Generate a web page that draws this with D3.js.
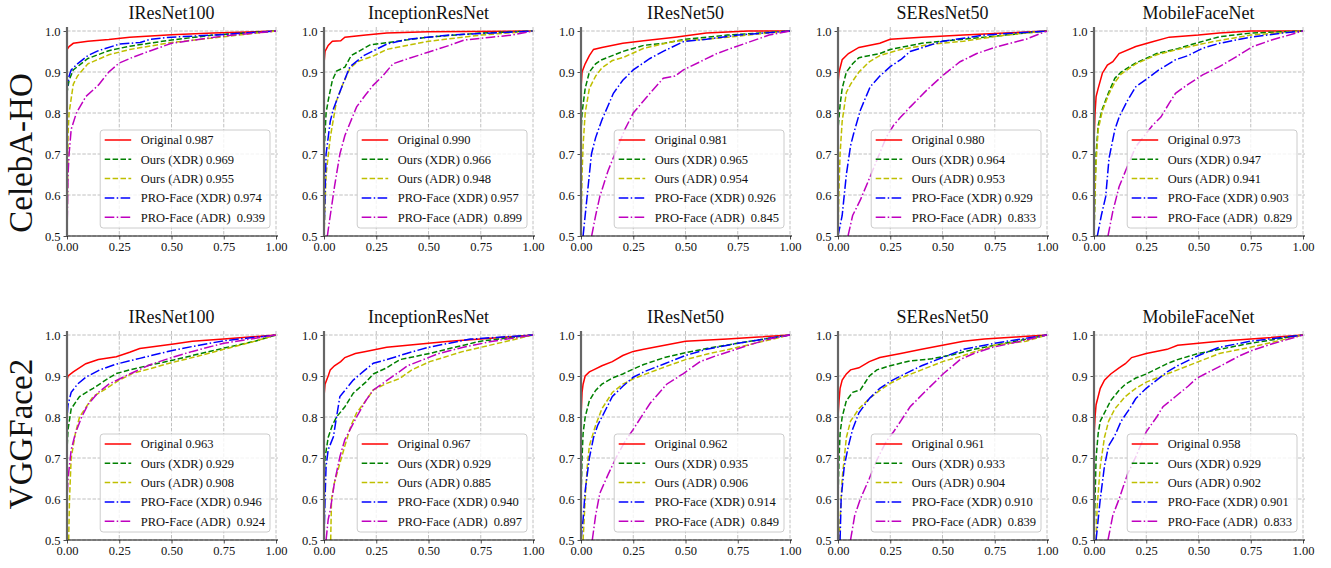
<!DOCTYPE html>
<html>
<head>
<meta charset="UTF-8">
<title>ROC curves</title>
<script src="https://cdnjs.cloudflare.com/ajax/libs/d3/7.8.5/d3.min.js"></script>
<style>
  body { margin: 0; background: #fff; }
  svg text { font-family: "Liberation Serif", "Times New Roman", serif; fill: #111; }
</style>
</head>
<body>
<svg id="chart" width="1331" height="568"></svg>
<script>
// ---- data ----
var datasets = ["CelebA-HO", "VGGFace2"];
var models = ["IResNet100", "InceptionResNet", "IResNet50", "SEResNet50", "MobileFaceNet"];
var methods = ["Original", "Ours (XDR)", "Ours (ADR)", "PRO-Face (XDR)", "PRO-Face (ADR) "];
var xTicks = [0, 0.25, 0.5, 0.75, 1];
var yTicks = [0.5, 0.6, 0.7, 0.8, 0.9, 1.0];

var celebaAuc = [
  [0.987, 0.969, 0.955, 0.974, 0.939],
  [0.990, 0.966, 0.948, 0.957, 0.899],
  [0.981, 0.965, 0.954, 0.926, 0.845],
  [0.980, 0.964, 0.953, 0.929, 0.833],
  [0.973, 0.947, 0.941, 0.903, 0.829]
];
var vggAuc = [
  [0.963, 0.929, 0.908, 0.946, 0.924],
  [0.967, 0.929, 0.885, 0.940, 0.897],
  [0.962, 0.935, 0.906, 0.914, 0.849],
  [0.961, 0.933, 0.904, 0.910, 0.839],
  [0.958, 0.929, 0.902, 0.901, 0.833]
];

// each panel: [Original, Ours XDR, Ours ADR, PRO-Face XDR, PRO-Face ADR], points are [fpr, tpr]
var celebaIResNet100 = [
  [[0,0.5],[0,0.955],[0.01,0.962],[0.03,0.97],[0.1,0.975],[0.2,0.979],[0.3,0.985],[0.5,0.991],[0.7,0.995],[1,1]],
  [[0,0.5],[0,0.85],[0.01,0.88],[0.03,0.905],[0.1,0.933],[0.2,0.952],[0.3,0.963],[0.5,0.978],[0.7,0.99],[1,1]],
  [[0,0.5],[0.005,0.75],[0.01,0.8],[0.03,0.87],[0.05,0.89],[0.1,0.92],[0.2,0.942],[0.3,0.955],[0.5,0.972],[0.75,0.986],[1,1]],
  [[0,0.5],[0,0.86],[0.01,0.89],[0.02,0.905],[0.05,0.92],[0.1,0.94],[0.15,0.952],[0.25,0.968],[0.35,0.972],[0.4,0.98],[0.5,0.985],[0.7,0.99],[1,1]],
  [[0,0.5],[0.005,0.65],[0.01,0.7],[0.02,0.76],[0.045,0.8],[0.09,0.84],[0.15,0.868],[0.2,0.9],[0.25,0.922],[0.32,0.937],[0.4,0.952],[0.5,0.97],[0.75,0.988],[1,1]]
];
var celebaInception = [
  [[0,0.5],[0,0.92],[0.005,0.95],[0.02,0.965],[0.04,0.975],[0.08,0.976],[0.1,0.985],[0.2,0.99],[0.3,0.995],[0.5,0.998],[1,1]],
  [[0,0.5],[0,0.7],[0.01,0.8],[0.02,0.83],[0.04,0.88],[0.06,0.902],[0.1,0.912],[0.13,0.94],[0.22,0.966],[0.35,0.975],[0.5,0.985],[0.75,0.995],[1,1]],
  [[0,0.5],[0.01,0.65],[0.03,0.74],[0.06,0.83],[0.09,0.87],[0.124,0.909],[0.16,0.925],[0.24,0.94],[0.3,0.955],[0.5,0.975],[0.75,0.99],[1,1]],
  [[0,0.5],[0.005,0.6],[0.01,0.7],[0.03,0.78],[0.045,0.81],[0.09,0.87],[0.124,0.913],[0.19,0.94],[0.3,0.968],[0.4,0.98],[0.6,0.99],[1,1]],
  [[0.016,0.5],[0.03,0.55],[0.05,0.62],[0.076,0.7],[0.1,0.745],[0.156,0.815],[0.2,0.845],[0.236,0.868],[0.28,0.89],[0.33,0.92],[0.4,0.932],[0.49,0.947],[0.6,0.965],[0.67,0.978],[0.8,0.985],[0.9,0.99],[1,1]]
];
var celebaIResNet50 = [
  [[0,0.5],[0,0.86],[0.005,0.9],[0.02,0.92],[0.04,0.94],[0.06,0.955],[0.1,0.96],[0.2,0.97],[0.3,0.976],[0.45,0.985],[0.6,0.995],[0.8,1],[1,1]],
  [[0,0.5],[0,0.75],[0.005,0.8],[0.02,0.86],[0.04,0.9],[0.07,0.92],[0.1,0.93],[0.2,0.95],[0.3,0.965],[0.4,0.97],[0.5,0.98],[0.7,0.99],[1,1]],
  [[0,0.5],[0.005,0.65],[0.01,0.72],[0.02,0.8],[0.04,0.86],[0.07,0.89],[0.1,0.91],[0.15,0.928],[0.2,0.935],[0.3,0.958],[0.45,0.975],[0.6,0.98],[0.8,0.99],[1,1]],
  [[0.01,0.5],[0.03,0.6],[0.05,0.7],[0.07,0.74],[0.1,0.783],[0.155,0.848],[0.2,0.88],[0.25,0.905],[0.33,0.933],[0.4,0.952],[0.49,0.974],[0.6,0.98],[0.75,0.99],[1,1]],
  [[0.051,0.5],[0.07,0.55],[0.09,0.596],[0.13,0.66],[0.17,0.71],[0.21,0.76],[0.25,0.8],[0.33,0.848],[0.394,0.885],[0.45,0.89],[0.49,0.905],[0.57,0.925],[0.65,0.945],[0.72,0.958],[0.81,0.974],[0.9,0.99],[1,1]]
];
var celebaSEResNet50 = [
  [[0,0.5],[0,0.87],[0.005,0.9],[0.02,0.93],[0.05,0.945],[0.1,0.96],[0.2,0.97],[0.25,0.98],[0.4,0.985],[0.6,0.99],[0.8,0.995],[1,1]],
  [[0,0.5],[0,0.76],[0.01,0.82],[0.02,0.86],[0.04,0.9],[0.07,0.92],[0.1,0.935],[0.2,0.945],[0.25,0.955],[0.4,0.97],[0.6,0.98],[0.8,0.99],[1,1]],
  [[0,0.5],[0.005,0.62],[0.01,0.7],[0.02,0.78],[0.04,0.85],[0.06,0.87],[0.1,0.9],[0.15,0.925],[0.2,0.94],[0.3,0.955],[0.45,0.968],[0.6,0.975],[0.8,0.99],[1,1]],
  [[0,0.5],[0.02,0.55],[0.04,0.65],[0.06,0.72],[0.075,0.75],[0.107,0.807],[0.154,0.864],[0.2,0.89],[0.25,0.913],[0.3,0.93],[0.345,0.95],[0.5,0.975],[0.7,0.99],[0.85,0.995],[1,1]],
  [[0.048,0.5],[0.07,0.55],[0.107,0.588],[0.15,0.64],[0.186,0.685],[0.23,0.74],[0.266,0.77],[0.3,0.79],[0.346,0.815],[0.425,0.856],[0.505,0.893],[0.584,0.925],[0.664,0.945],[0.75,0.96],[0.823,0.97],[0.9,0.98],[1,1]]
];
var celebaMobile = [
  [[0,0.5],[0,0.73],[0.005,0.8],[0.01,0.84],[0.02,0.86],[0.04,0.897],[0.064,0.917],[0.09,0.925],[0.12,0.945],[0.2,0.962],[0.28,0.974],[0.36,0.985],[0.5,0.99],[0.6,0.995],[0.75,1],[1,1]],
  [[0,0.5],[0.005,0.62],[0.01,0.7],[0.02,0.77],[0.04,0.81],[0.07,0.85],[0.1,0.885],[0.13,0.9],[0.2,0.922],[0.3,0.945],[0.4,0.957],[0.5,0.972],[0.6,0.986],[0.75,0.995],[1,1]],
  [[0,0.5],[0.005,0.6],[0.01,0.68],[0.02,0.76],[0.04,0.805],[0.07,0.845],[0.1,0.875],[0.13,0.895],[0.2,0.92],[0.3,0.942],[0.4,0.955],[0.5,0.967],[0.6,0.977],[0.75,0.99],[1,1]],
  [[0.016,0.5],[0.035,0.55],[0.056,0.596],[0.072,0.69],[0.1,0.76],[0.12,0.79],[0.16,0.83],[0.2,0.864],[0.25,0.882],[0.31,0.905],[0.39,0.93],[0.45,0.94],[0.52,0.958],[0.6,0.97],[0.75,0.985],[0.9,0.995],[1,1]],
  [[0.067,0.5],[0.09,0.56],[0.12,0.62],[0.16,0.67],[0.2,0.718],[0.28,0.77],[0.32,0.79],[0.36,0.824],[0.39,0.848],[0.45,0.87],[0.52,0.893],[0.6,0.913],[0.68,0.937],[0.76,0.962],[0.85,0.978],[1,1]]
];

var vggIResNet100 = [
  [[0,0.5],[0,0.89],[0.005,0.9],[0.03,0.91],[0.09,0.93],[0.15,0.94],[0.236,0.947],[0.3,0.958],[0.348,0.967],[0.51,0.978],[0.6,0.985],[0.75,0.99],[1,1]],
  [[0,0.5],[0,0.72],[0.005,0.77],[0.02,0.82],[0.06,0.85],[0.125,0.87],[0.2,0.895],[0.236,0.906],[0.3,0.915],[0.4,0.927],[0.51,0.939],[0.6,0.95],[0.75,0.968],[0.9,0.985],[1,1]],
  [[0.008,0.5],[0.012,0.6],[0.02,0.7],[0.04,0.76],[0.06,0.8],[0.125,0.85],[0.19,0.87],[0.25,0.89],[0.316,0.907],[0.4,0.918],[0.48,0.93],[0.6,0.945],[0.75,0.965],[0.9,0.985],[1,1]],
  [[0,0.5],[0,0.8],[0.005,0.83],[0.02,0.86],[0.05,0.88],[0.093,0.898],[0.157,0.915],[0.236,0.929],[0.348,0.943],[0.51,0.963],[0.6,0.972],[0.75,0.986],[1,1]],
  [[0,0.5],[0,0.6],[0.005,0.65],[0.02,0.72],[0.04,0.76],[0.07,0.8],[0.1,0.83],[0.15,0.86],[0.2,0.88],[0.3,0.905],[0.4,0.928],[0.5,0.945],[0.6,0.96],[0.75,0.98],[1,1]]
];
var vggInception = [
  [[0,0.5],[0,0.85],[0.005,0.88],[0.02,0.9],[0.03,0.915],[0.05,0.925],[0.08,0.935],[0.1,0.945],[0.15,0.955],[0.2,0.96],[0.3,0.97],[0.4,0.975],[0.5,0.98],[0.6,0.985],[0.75,0.99],[1,1]],
  [[0,0.5],[0,0.63],[0.005,0.7],[0.02,0.75],[0.04,0.78],[0.06,0.8],[0.1,0.825],[0.14,0.858],[0.2,0.885],[0.236,0.905],[0.3,0.92],[0.363,0.94],[0.506,0.955],[0.6,0.967],[0.75,0.985],[1,1]],
  [[0.032,0.5],[0.036,0.6],[0.05,0.64],[0.076,0.687],[0.1,0.73],[0.13,0.78],[0.156,0.81],[0.2,0.84],[0.236,0.866],[0.3,0.882],[0.363,0.894],[0.42,0.915],[0.506,0.935],[0.666,0.96],[0.75,0.97],[0.87,0.984],[1,1]],
  [[0,0.5],[0.005,0.6],[0.01,0.68],[0.02,0.72],[0.045,0.752],[0.06,0.8],[0.076,0.85],[0.1,0.865],[0.14,0.89],[0.19,0.912],[0.236,0.931],[0.3,0.94],[0.395,0.955],[0.5,0.97],[0.6,0.98],[0.7,0.99],[1,1]],
  [[0.01,0.5],[0.02,0.55],[0.03,0.573],[0.05,0.64],[0.076,0.703],[0.1,0.745],[0.156,0.8],[0.2,0.84],[0.236,0.866],[0.315,0.894],[0.4,0.925],[0.475,0.94],[0.55,0.955],[0.666,0.97],[0.8,0.984],[1,1]]
];
var vggIResNet50 = [
  [[0,0.5],[0,0.8],[0.005,0.86],[0.01,0.88],[0.02,0.9],[0.04,0.91],[0.06,0.915],[0.1,0.925],[0.15,0.935],[0.2,0.95],[0.25,0.96],[0.3,0.965],[0.4,0.975],[0.5,0.985],[0.7,0.99],[0.85,0.995],[1,1]],
  [[0,0.5],[0,0.6],[0.005,0.7],[0.01,0.76],[0.02,0.8],[0.04,0.84],[0.07,0.865],[0.1,0.88],[0.15,0.895],[0.2,0.905],[0.25,0.917],[0.3,0.928],[0.4,0.945],[0.5,0.957],[0.6,0.967],[0.75,0.98],[1,1]],
  [[0.01,0.5],[0.02,0.6],[0.03,0.68],[0.04,0.73],[0.07,0.78],[0.1,0.82],[0.15,0.86],[0.2,0.88],[0.25,0.893],[0.3,0.903],[0.4,0.922],[0.5,0.94],[0.6,0.953],[0.75,0.97],[1,1]],
  [[0,0.5],[0.01,0.55],[0.02,0.62],[0.04,0.7],[0.06,0.75],[0.08,0.78],[0.1,0.8],[0.15,0.85],[0.2,0.875],[0.25,0.897],[0.3,0.91],[0.4,0.93],[0.5,0.95],[0.6,0.965],[0.75,0.98],[1,1]],
  [[0.054,0.5],[0.07,0.56],[0.09,0.614],[0.13,0.66],[0.17,0.703],[0.21,0.74],[0.25,0.77],[0.33,0.833],[0.41,0.88],[0.49,0.906],[0.57,0.935],[0.65,0.95],[0.73,0.963],[0.8,0.975],[0.9,0.99],[1,1]]
];
var vggSEResNet50 = [
  [[0,0.5],[0,0.8],[0.005,0.84],[0.01,0.87],[0.02,0.89],[0.04,0.905],[0.06,0.915],[0.1,0.92],[0.15,0.935],[0.2,0.945],[0.3,0.955],[0.4,0.965],[0.5,0.975],[0.6,0.985],[0.7,0.99],[0.85,0.995],[1,1]],
  [[0,0.5],[0,0.6],[0.005,0.7],[0.01,0.76],[0.02,0.8],[0.04,0.84],[0.07,0.86],[0.107,0.866],[0.15,0.9],[0.186,0.915],[0.25,0.925],[0.345,0.937],[0.45,0.942],[0.55,0.952],[0.65,0.965],[0.75,0.975],[0.9,0.99],[1,1]],
  [[0.005,0.5],[0.01,0.55],[0.02,0.65],[0.04,0.75],[0.06,0.79],[0.1,0.82],[0.15,0.845],[0.2,0.865],[0.25,0.882],[0.3,0.895],[0.4,0.915],[0.5,0.935],[0.6,0.95],[0.75,0.975],[0.9,0.985],[1,1]],
  [[0.01,0.5],[0.015,0.6],[0.03,0.68],[0.05,0.73],[0.07,0.77],[0.1,0.81],[0.15,0.845],[0.2,0.87],[0.25,0.887],[0.3,0.9],[0.4,0.925],[0.5,0.945],[0.6,0.965],[0.75,0.98],[1,1]],
  [[0.06,0.5],[0.08,0.56],[0.107,0.6],[0.15,0.65],[0.186,0.695],[0.23,0.74],[0.266,0.764],[0.3,0.79],[0.345,0.825],[0.425,0.866],[0.505,0.906],[0.584,0.94],[0.65,0.955],[0.74,0.97],[0.85,0.982],[1,1]]
];
var vggMobile = [
  [[0,0.5],[0,0.75],[0.005,0.8],[0.01,0.83],[0.02,0.85],[0.03,0.87],[0.05,0.89],[0.08,0.905],[0.12,0.92],[0.15,0.93],[0.18,0.945],[0.25,0.955],[0.35,0.965],[0.4,0.975],[0.5,0.98],[0.6,0.985],[0.75,0.99],[1,1]],
  [[0,0.5],[0.005,0.6],[0.01,0.7],[0.02,0.76],[0.03,0.79],[0.05,0.81],[0.08,0.84],[0.12,0.865],[0.15,0.88],[0.2,0.895],[0.25,0.905],[0.35,0.93],[0.4,0.94],[0.5,0.955],[0.6,0.965],[0.75,0.98],[1,1]],
  [[0.01,0.5],[0.015,0.58],[0.03,0.68],[0.05,0.75],[0.07,0.79],[0.1,0.82],[0.15,0.85],[0.2,0.87],[0.25,0.885],[0.3,0.895],[0.4,0.915],[0.5,0.935],[0.6,0.955],[0.75,0.97],[1,1]],
  [[0.01,0.5],[0.02,0.55],[0.03,0.6],[0.05,0.68],[0.07,0.73],[0.1,0.755],[0.13,0.79],[0.17,0.82],[0.2,0.845],[0.25,0.87],[0.3,0.89],[0.35,0.91],[0.4,0.925],[0.5,0.95],[0.6,0.97],[0.75,0.985],[1,1]],
  [[0.067,0.5],[0.09,0.56],[0.12,0.6],[0.16,0.66],[0.2,0.703],[0.25,0.764],[0.3,0.8],[0.33,0.825],[0.39,0.85],[0.45,0.875],[0.49,0.894],[0.6,0.923],[0.7,0.95],[0.76,0.963],[0.85,0.978],[1,1]]
];

var curves = [
  [celebaIResNet100, celebaInception, celebaIResNet50, celebaSEResNet50, celebaMobile],
  [vggIResNet100, vggInception, vggIResNet50, vggSEResNet50, vggMobile]
];
var aucs = [celebaAuc, vggAuc];

// ---- styles / layout ----
var colors = ["#ff0000", "#008000", "#bfbf00", "#0000ff", "#bf00bf"];
var dashes = [null, "5.5,2.4", "5.5,2.4", "9.6,2.4,1.5,2.4", "9.6,2.4,1.5,2.4"];
var colLeft = [67, 324, 581, 838, 1094];
var rowTop = [31, 335];
var pw = 209, ph = 205;
var rowLabelY = [153, 434];

var svg = d3.select("#chart");
var defs = svg.append("defs");

datasets.forEach(function (ds, r) {
  svg.append("text")
    .attr("transform", "translate(32," + rowLabelY[r] + ") rotate(-90)")
    .attr("text-anchor", "middle")
    .style("font-size", "33px")
    .text(ds);

  models.forEach(function (m, c) {
    var x = d3.scaleLinear().domain([0, 1]).range([0, pw]);
    var y = d3.scaleLinear().domain([0.5, 1]).range([ph, 0]);
    var g = svg.append("g").attr("transform", "translate(" + colLeft[c] + "," + rowTop[r] + ")");

    // grid
    g.append("g").selectAll("line").data(xTicks).join("line")
      .attr("x1", d => x(d)).attr("x2", d => x(d)).attr("y1", -4).attr("y2", ph)
      .attr("stroke", "#b0b0b0").attr("stroke-width", 0.8).attr("stroke-dasharray", "3.5,1.6");
    g.append("g").selectAll("line").data(yTicks).join("line")
      .attr("x1", 0).attr("x2", pw + 2).attr("y1", d => y(d)).attr("y2", d => y(d))
      .attr("stroke", "#b0b0b0").attr("stroke-width", 0.8).attr("stroke-dasharray", "3.5,1.6");

    // curves
    var clipId = "clip-" + r + "-" + c;
    defs.append("clipPath").attr("id", clipId).append("rect")
      .attr("x", -2).attr("y", -4).attr("width", pw + 4).attr("height", ph + 4);
    var line = d3.line().x(d => x(d[0])).y(d => y(d[1]));
    g.append("g").attr("clip-path", "url(#" + clipId + ")")
      .selectAll("path").data(curves[r][c]).join("path")
      .attr("d", line)
      .attr("fill", "none")
      .attr("stroke", (d, i) => colors[i])
      .attr("stroke-width", 1.5)
      .attr("stroke-dasharray", (d, i) => dashes[i]);

    // axes
    var xAxis = g.append("g").attr("transform", "translate(0," + ph + ")")
      .call(d3.axisBottom(x).tickValues(xTicks).tickFormat(d3.format(".2f")).tickSize(3.5).tickPadding(3));
    var yAxis = g.append("g")
      .call(d3.axisLeft(y).tickValues(yTicks).tickFormat(d3.format(".1f")).tickSize(3.5).tickPadding(3));
    [xAxis, yAxis].forEach(function (a) {
      a.select(".domain").remove();
      a.selectAll(".tick line").attr("stroke", "#222").attr("stroke-width", 0.8);
      a.selectAll(".tick text").style("font-size", "12.5px")
        .style("font-family", "'Liberation Serif', 'Times New Roman', serif").attr("fill", "#111");
    });
    g.append("line").attr("x1", 0).attr("x2", pw + 2).attr("y1", ph).attr("y2", ph)
      .attr("stroke", "#111").attr("stroke-width", 1);
    g.append("line").attr("x1", 0).attr("x2", 0).attr("y1", -4).attr("y2", ph)
      .attr("stroke", "#666").attr("stroke-width", 2.2);

    // title
    g.append("text").attr("x", pw / 2).attr("y", -12).attr("text-anchor", "middle")
      .style("font-size", "18px").text(m);

    // legend
    var lg = g.append("g");
    var box = lg.append("rect").attr("rx", 3).attr("ry", 3)
      .attr("fill", "#fff").attr("fill-opacity", 0.8)
      .attr("stroke", "#cccccc").attr("stroke-width", 1);
    var rowH = 19.3, maxW = 0;
    methods.forEach(function (name, i) {
      var cy = 10 + i * rowH;
      lg.append("line").attr("x1", 4.5).attr("x2", 31).attr("y1", cy).attr("y2", cy)
        .attr("stroke", colors[i]).attr("stroke-width", 1.5).attr("stroke-dasharray", dashes[i]);
      var t = lg.append("text").attr("x", 40.5).attr("y", cy + 4.3)
        .style("font-size", "12.5px").style("white-space", "pre")
        .text(name + " " + aucs[r][c][i].toFixed(3));
      maxW = Math.max(maxW, t.node().getComputedTextLength());
    });
    var bw = 40.5 + maxW + 5, bh = 98;
    box.attr("width", bw).attr("height", bh);
    lg.attr("transform", "translate(" + (pw - 6 - bw) + "," + (ph - 8 - bh) + ")");
  });
});
</script>
</body>
</html>
